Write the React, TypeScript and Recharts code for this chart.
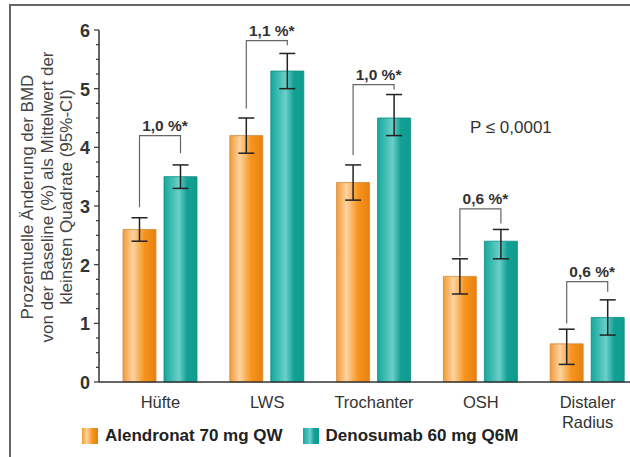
import React from "react";
import { BarChart, Bar, XAxis, YAxis, ErrorBar, LabelList } from "recharts";

const categories = ["Hüfte", "LWS", "Trochanter", "OSH", "Distaler Radius"];
const alendronat = [2.6, 4.2, 3.4, 1.8, 0.65];
const alendronatLow = [2.4, 3.9, 3.1, 1.5, 0.3];
const alendronatHigh = [2.8, 4.5, 3.7, 2.1, 0.9];
const denosumab = [3.5, 5.3, 4.5, 2.4, 1.1];
const denosumabLow = [3.3, 5.0, 4.2, 2.1, 0.8];
const denosumabHigh = [3.7, 5.6, 4.9, 2.6, 1.4];
const diffLabels = ["1,0 %*", "1,1 %*", "1,0 %*", "0,6 %*", "0,6 %*"];
const bracketTop = [4.2, 5.82, 5.07, 2.95, 1.71];
const bracketLeftBase = [2.98, 4.66, 3.87, 2.14, 1.0];
const bracketRightBase = [3.9, 5.74, 4.98, 2.7, 1.54];
const seriesNames = ["Alendronat 70 mg QW", "Denosumab 60 mg Q6M"];
const yTicks = Array.from({ length: 25 }, (_, i) => i * 0.25);

const data = categories.map((name, i) => ({
  name,
  a: alendronat[i],
  aErr: [alendronat[i] - alendronatLow[i], alendronatHigh[i] - alendronat[i]],
  d: denosumab[i],
  dErr: [denosumab[i] - denosumabLow[i], denosumabHigh[i] - denosumab[i]],
}));

const FONT = "Arial, 'Liberation Sans', Helvetica, sans-serif";
const BAR_SIZE = 33;
const BAR_GAP = 8;

function YTick(props: any) {
  const { x, y, payload } = props;
  const v = payload.value;
  const major = Math.abs(v - Math.round(v)) < 1e-6;
  return (
    <g>
      <line x1={x - (major ? 5 : 3)} x2={x} y1={y} y2={y} stroke="#333" strokeWidth={1.2} />
      {major && (
        <text x={x - 9} y={y + 7} textAnchor="end" fontFamily={FONT} fontSize={18} fontWeight="bold" fill="#333">
          {v}
        </text>
      )}
    </g>
  );
}

function XTick(props: any) {
  const { x, y, payload } = props;
  const lines = String(payload.value).split(" ");
  return (
    <text x={x} y={y + 24} textAnchor="middle" fontFamily={FONT} fontSize={16.5} fill="#333">
      {lines.map((l, i) => (
        <tspan key={i} x={x} dy={i === 0 ? 0 : 20}>
          {l}
        </tspan>
      ))}
    </text>
  );
}

function Bracket(props: any) {
  const vb = props.viewBox ?? props;
  const { x, y, width, height } = vb;
  const index = props.index;
  const value = denosumab[index];
  const bottom = y + height;
  const ppu = height / value;
  const py = (d: number) => bottom - d * ppu;
  const xr = x + width / 2;
  const xl = xr - (BAR_SIZE + BAR_GAP);
  const top = py(bracketTop[index]);
  return (
    <g>
      <polyline
        points={`${xl},${py(bracketLeftBase[index])} ${xl},${top} ${xr},${top} ${xr},${py(bracketRightBase[index])}`}
        fill="none"
        stroke="#666"
        strokeWidth={1.2}
      />
      <text x={(xl + xr) / 2 + 5} y={top - 5} textAnchor="middle" fontFamily={FONT} fontSize={15.5} fontWeight="bold" fill="#333">
        {diffLabels[index]}
      </text>
    </g>
  );
}

function YLabel() {
  const lines = ["Prozentuelle Änderung der BMD", "von der Baseline (%) als Mittelwert der", "kleinsten Quadrate (95%-CI)"];
  const cy = 197;
  return (
    <g>
      {lines.map((l, i) => {
        const cx = 33 + i * 19.5;
        return (
          <text key={i} x={cx} y={cy} transform={`rotate(-90 ${cx} ${cy})`} textAnchor="middle" fontFamily={FONT} fontSize={17} fill="#444">
            {l}
          </text>
        );
      })}
    </g>
  );
}

function Swatch({ grad }: { grad: string }) {
  return <span style={{ display: "inline-block", width: 16, height: 16, background: grad, marginRight: 7 }} />;
}

const orangeCss = "linear-gradient(90deg, #f39a35 0%, #fcd3a0 30%, #f7941d 65%, #e8800f 100%)";
const tealCss = "linear-gradient(90deg, #14a89c 0%, #6acfc9 45%, #13a094 70%, #0f9c8f 100%)";

export default function App() {
  return (
    <div style={{ position: "absolute", left: 0, top: 0, width: 630, height: 457, overflow: "hidden", background: "#fff" }}>
      <div style={{ position: "absolute", left: 9, top: 4, width: 621, height: 2, background: "#666" }} />
      <div style={{ position: "absolute", left: 9, top: 4, width: 2, height: 453, background: "#666" }} />
      <BarChart
        width={645}
        height={457}
        data={data}
        margin={{ top: 30, right: 4, left: 0, bottom: 0 }}
        barSize={BAR_SIZE}
        barGap={BAR_GAP}
      >
        <defs>
          <linearGradient id="orangeGrad" x1="0" x2="1" y1="0" y2="0">
            <stop offset="0%" stopColor="#f39a35" />
            <stop offset="30%" stopColor="#fcd3a0" />
            <stop offset="65%" stopColor="#f7941d" />
            <stop offset="100%" stopColor="#e8800f" />
          </linearGradient>
          <linearGradient id="tealGrad" x1="0" x2="1" y1="0" y2="0">
            <stop offset="0%" stopColor="#14a89c" />
            <stop offset="45%" stopColor="#6acfc9" />
            <stop offset="70%" stopColor="#13a094" />
            <stop offset="100%" stopColor="#0f9c8f" />
          </linearGradient>
        </defs>
        <XAxis
          dataKey="name"
          height={75}
          interval={0}
          padding={{ left: 8, right: 0 }}
          axisLine={{ stroke: "#333", strokeWidth: 1.5 }}
          tickLine={false}
          tickSize={0}
          tick={<XTick />}
        />
        <YAxis
          width={99}
          domain={[0, 6]}
          ticks={yTicks}
          interval={0}
          axisLine={{ stroke: "#333", strokeWidth: 1.5 }}
          tickLine={false}
          tickSize={0}
          tickMargin={0}
          tick={<YTick />}
          label={<YLabel />}
        />
        <Bar dataKey="a" name={seriesNames[0]} fill="url(#orangeGrad)" stroke="#d08a3c" strokeWidth={0.8} isAnimationActive={false}>
          <ErrorBar dataKey="aErr" width={8} stroke="#222" strokeWidth={1.5} />
        </Bar>
        <Bar dataKey="d" name={seriesNames[1]} fill="url(#tealGrad)" stroke="#0c8c82" strokeWidth={0.8} isAnimationActive={false}>
          <ErrorBar dataKey="dErr" width={8} stroke="#222" strokeWidth={1.5} />
          <LabelList dataKey="d" content={<Bracket />} />
        </Bar>
      </BarChart>
      <div style={{ position: "absolute", left: 470, top: 118, fontFamily: FONT, fontSize: 17, color: "#333" }}>
        P ≤ 0,0001
      </div>
      <div
        style={{
          position: "absolute",
          left: 82,
          top: 426,
          display: "flex",
          alignItems: "center",
          fontFamily: FONT,
          fontSize: 17,
          fontWeight: "bold",
          color: "#222",
          whiteSpace: "nowrap",
        }}
      >
        <Swatch grad={orangeCss} />
        <span style={{ marginRight: 20 }}>{seriesNames[0]}</span>
        <Swatch grad={tealCss} />
        <span>{seriesNames[1]}</span>
      </div>
    </div>
  );
}
